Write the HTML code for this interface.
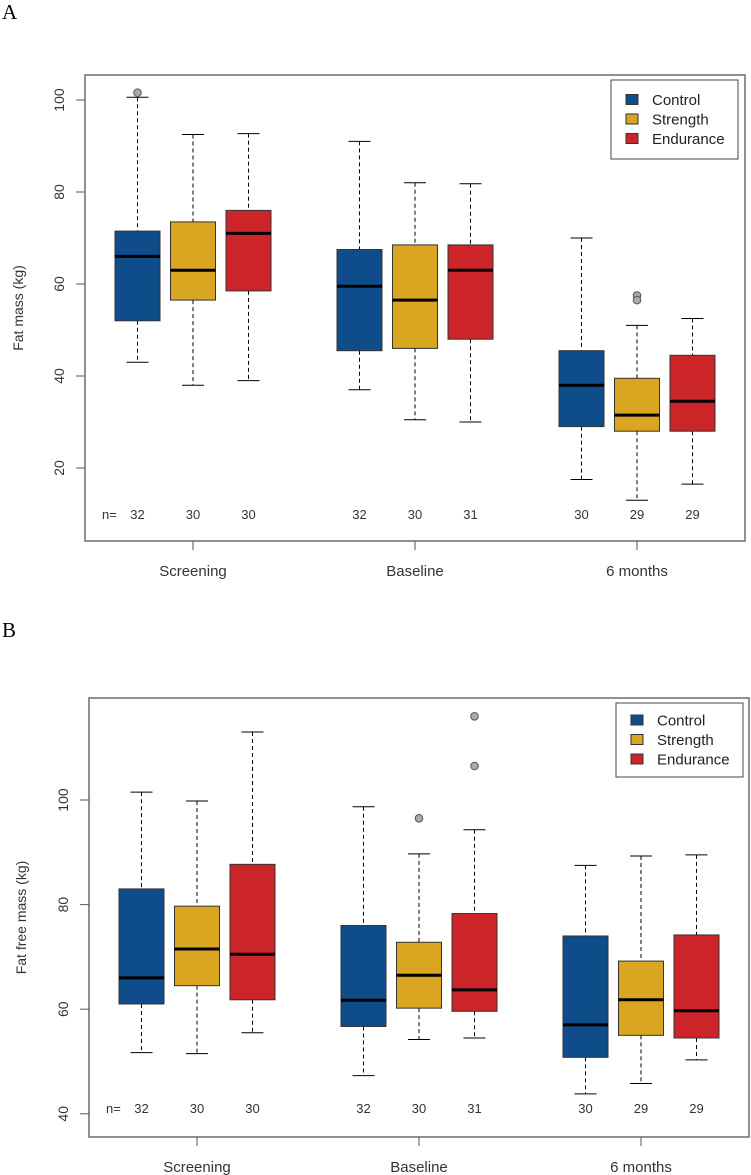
<!DOCTYPE html>
<html><head><meta charset="utf-8"><style>
html,body{margin:0;padding:0;background:#fff;}
svg{display:block;font-family:"Liberation Sans",sans-serif;}
</style></head><body>
<svg id="fig" width="751" height="1175" viewBox="0 0 751 1175">
<text x="2" y="19" font-family="Liberation Serif, serif" font-size="21" fill="#000">A</text>
<text x="2" y="637" font-family="Liberation Serif, serif" font-size="21" fill="#000">B</text>
</svg>
<script>
const groups = ["Screening","Baseline","6 months"];
const seriesNames = ["Control","Strength","Endurance"];
const colors = ["#0f4c8a","#daa520","#cc2529"];
// [low whisker, q1, median, q3, high whisker] per group per series
const fatControl   = [[43,52,66,71.5,100.6],[37,45.5,59.5,67.5,91],[17.5,29,38,45.5,70]];
const fatStrength  = [[38,56.5,63,73.5,92.5],[30.5,46,56.5,68.5,82],[13,28,31.5,39.5,51]];
const fatEndurance = [[39,58.5,71,76,92.7],[30,48,63,68.5,81.8],[16.5,28,34.5,44.5,52.5]];
const fatOutControl = [[101.6],[],[]];
const fatOutStrength = [[],[],[57.5,56.5]];
const fatOutEndurance = [[],[],[]];
const fatN = [[32,30,30],[32,30,31],[30,29,29]];
const fatTicks = [20,40,60,80,100];

const ffmControl   = [[51.7,61,66,83,101.5],[47.3,56.7,61.7,76,98.7],[43.8,50.8,57,74,87.5]];
const ffmStrength  = [[51.5,64.5,71.5,79.7,99.8],[54.2,60.2,66.5,72.8,89.7],[45.8,55,61.8,69.2,89.3]];
const ffmEndurance = [[55.5,61.8,70.5,87.7,113],[54.5,59.6,63.7,78.3,94.3],[50.3,54.5,59.7,74.2,89.5]];
const ffmOutControl = [[],[],[]];
const ffmOutStrength = [[],[96.5],[]];
const ffmOutEndurance = [[],[116,106.5],[107]];
const ffmN = [[32,30,30],[32,30,31],[30,29,29]];
const ffmTicks = [40,60,80,100];

const NS="http://www.w3.org/2000/svg";
const svg=document.getElementById('fig');
function mk(tag,attrs,parent){const e=document.createElementNS(NS,tag);for(const k in attrs)e.setAttribute(k,attrs[k]);(parent||svg).appendChild(e);return e;}

function panel(cfg){
  const g=mk('g',{});
  
  
  const y=v=>cfg.y0+(cfg.v0-v)*cfg.ppu;
  const x=(gi,si)=>cfg.x0+gi*222+si*55.5;
  const fr=mk('rect',{x:cfg.L,y:cfg.T,width:cfg.R-cfg.L,height:cfg.B-cfg.T,fill:'none',stroke:'#555','stroke-width':1.3},g);
  
  
  cfg.ticks.forEach(t=>{
    const yy=y(t);
    const l=mk('line',{x1:cfg.L-9,x2:cfg.L,y1:yy,y2:yy,stroke:'#555','stroke-width':1},g);
    
    
    const tx=mk('text',{x:cfg.L-21,y:yy,'font-size':14,fill:'#333','text-anchor':'middle',transform:`rotate(-90 ${cfg.L-21} ${yy})`},g);
    tx.textContent=t;
    
    
  });
  const yl=mk('text',{x:cfg.ylx,y:(cfg.T+cfg.B)/2,'font-size':14,fill:'#333','text-anchor':'middle',transform:`rotate(-90 ${cfg.ylx} ${(cfg.T+cfg.B)/2})`},g);
  yl.textContent=cfg.ylabel;
  
  
  groups.forEach((gn,gi)=>{
    const xx=x(gi,1);
    const l=mk('line',{x1:xx,x2:xx,y1:cfg.B,y2:cfg.B+9,stroke:'#555','stroke-width':1},g);
    
    
    const t=mk('text',{x:xx,y:cfg.B+35,'font-size':15,fill:'#333','text-anchor':'middle'},g);
    t.textContent=gn;
    
    
  });
  const nl=mk('text',{x:cfg.L+17,y:cfg.nY,'font-size':13,fill:'#333'},g);
  nl.textContent='n=';
  
  
  cfg.series.forEach((ser,si)=>{
    ser.forEach((st,gi)=>{
      const cx=x(gi,si),hw=22.5;
      const bg=mk('g',{},g);
      
      
      mk('line',{x1:cx,x2:cx,y1:y(st[4]),y2:y(st[3]),stroke:'#000','stroke-dasharray':'4,3','stroke-width':1},bg);
      mk('line',{x1:cx,x2:cx,y1:y(st[1]),y2:y(st[0]),stroke:'#000','stroke-dasharray':'4,3','stroke-width':1},bg);
      mk('line',{x1:cx-11,x2:cx+11,y1:y(st[4]),y2:y(st[4]),stroke:'#000','stroke-width':1},bg);
      mk('line',{x1:cx-11,x2:cx+11,y1:y(st[0]),y2:y(st[0]),stroke:'#000','stroke-width':1},bg);
      mk('rect',{x:cx-hw,y:y(st[3]),width:2*hw,height:y(st[1])-y(st[3]),fill:colors[si],stroke:'#333','stroke-width':1},bg);
      mk('line',{x1:cx-hw,x2:cx+hw,y1:y(st[2]),y2:y(st[2]),stroke:'#000','stroke-width':3},bg);
      cfg.outs[si][gi].forEach(o=>{
        const c=mk('circle',{cx:cx,cy:y(o),r:3.8,fill:'#aaa',stroke:'#555','stroke-width':1},g);
        
        
      });
      const nt=mk('text',{x:cx,y:cfg.nY,'font-size':13,fill:'#333','text-anchor':'middle'},g);
      nt.textContent=cfg.n[gi][si];
      
      
    });
  });
  const lg=mk('g',{},g);
  
  
  mk('rect',{x:cfg.lx,y:cfg.ly,width:127,height:cfg.lh,fill:'#fff',stroke:'#444','stroke-width':1},lg);
  seriesNames.forEach((s,i)=>{
    const ry=cfg.ly+cfg.lh/2+(i-1)*19.5;
    const e=mk('g',{},lg);
    
    
    mk('rect',{x:cfg.lx+15,y:ry-5.5,width:12,height:10,fill:colors[i],stroke:'#333','stroke-width':1},e);
    const t=mk('text',{x:cfg.lx+41,y:ry+5,'font-size':15,fill:'#222'},e);
    t.textContent=s;
  });
}

panel({name:'panel-a-fat-mass',L:85,R:745,T:75,B:541,x0:137.5,v0:100,y0:100,ppu:4.6,ticks:fatTicks,
  ylabel:'Fat mass (kg)',ylx:23,nY:519,series:[fatControl,fatStrength,fatEndurance],
  outs:[fatOutControl,fatOutStrength,fatOutEndurance],n:fatN,lx:611,ly:80,lh:79});
panel({name:'panel-b-fat-free-mass',L:89,R:749,T:698,B:1137,x0:141.5,v0:100,y0:800,ppu:5.23,ticks:ffmTicks,
  ylabel:'Fat free mass (kg)',ylx:26,nY:1113,series:[ffmControl,ffmStrength,ffmEndurance],
  outs:[ffmOutControl,ffmOutStrength,ffmOutEndurance],n:ffmN,lx:616,ly:703,lh:74});
</script>
</body></html>
